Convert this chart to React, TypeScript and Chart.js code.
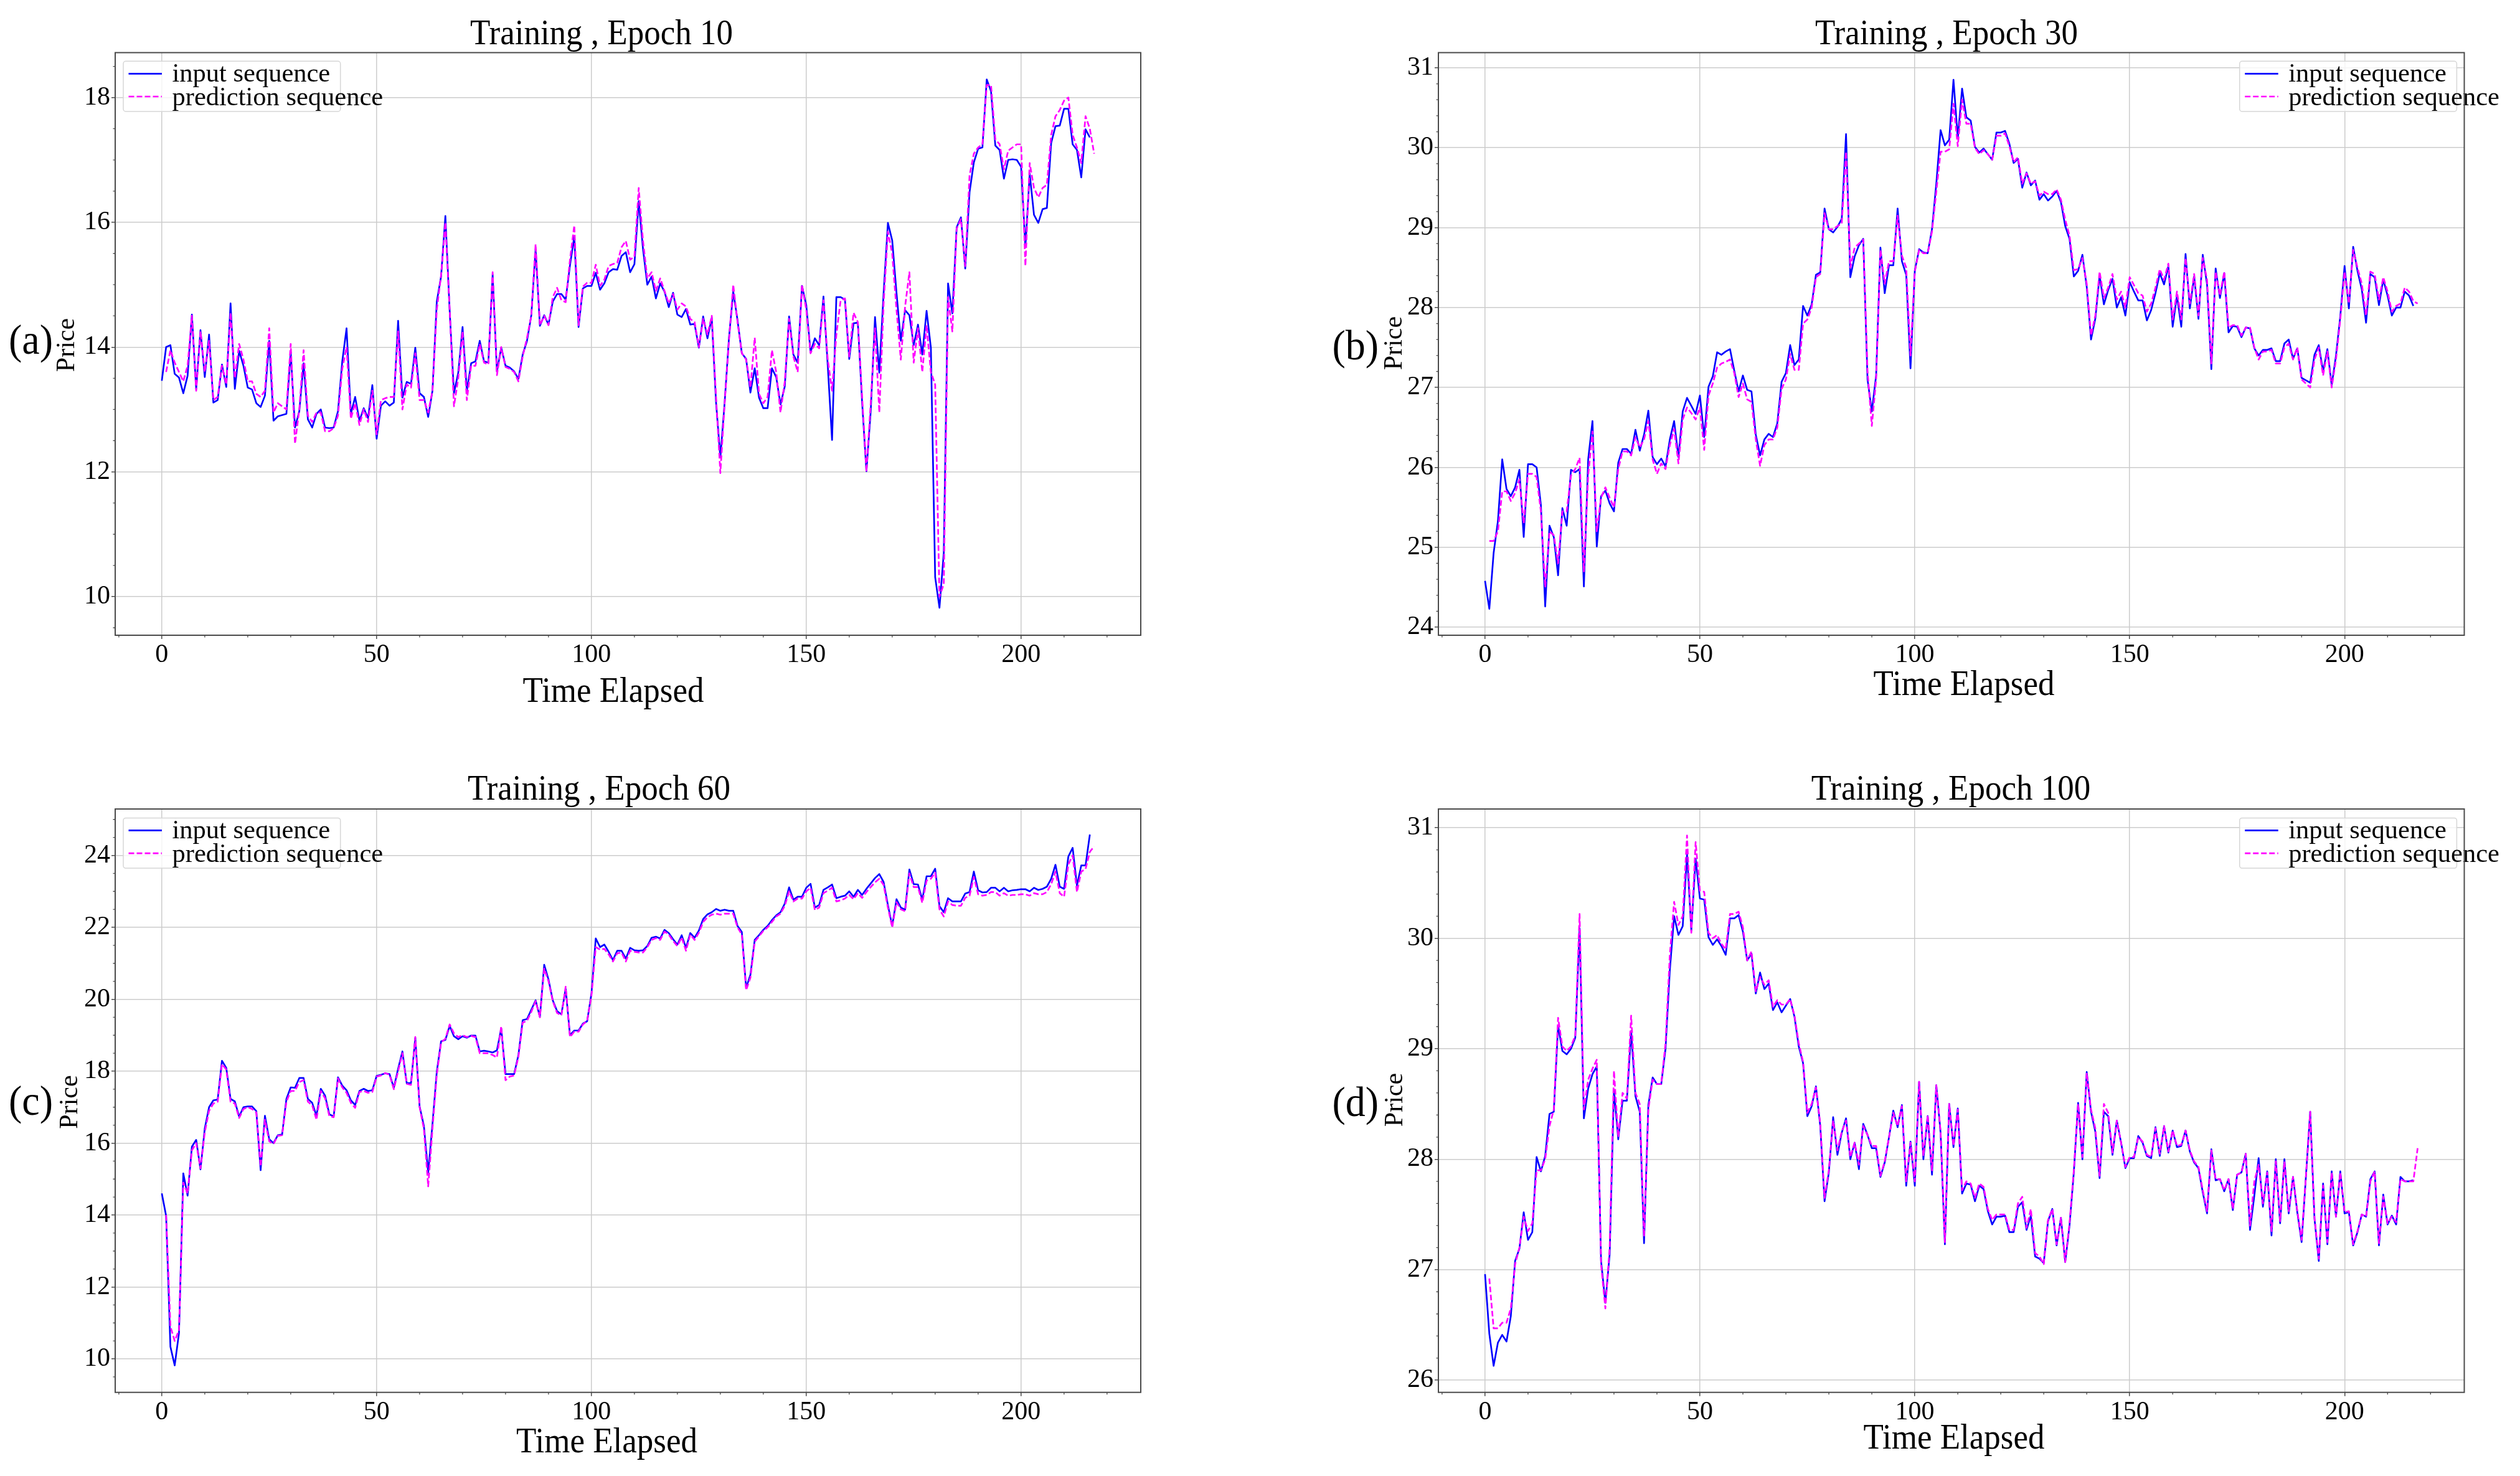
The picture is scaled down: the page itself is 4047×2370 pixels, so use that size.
import React, { useEffect, useRef } from "react";
import { Chart, registerables } from "chart.js";

Chart.register(...registerables);

// ---------------- data ----------------
const X_TICKS = [0, 50, 100, 150, 200];

const A_Y_TICKS = [10, 12, 14, 16, 18];
const B_Y_TICKS = [24, 25, 26, 27, 28, 29, 30, 31];
const C_Y_TICKS = [10, 12, 14, 16, 18, 20, 22, 24];
const D_Y_TICKS = [26, 27, 28, 29, 30, 31];

const LEGEND_LABELS = ["input sequence", "prediction sequence"];

// input sequence: x = 0..216 ; prediction sequence: x = 1..217
const A_INPUT = [
  13.46, 14.0, 14.03, 13.57, 13.51, 13.26, 13.54, 14.52, 13.33, 14.27,
  13.52, 14.2, 13.11, 13.15, 13.72, 13.36, 14.7, 13.33, 13.94, 13.7,
  13.35, 13.32, 13.1, 13.04, 13.22, 14.1, 12.82, 12.89, 12.91, 12.93,
  13.92, 12.71, 12.97, 13.74, 12.84, 12.71, 12.93, 13.0, 12.71, 12.7,
  12.71, 12.97, 13.77, 14.3, 12.93, 13.2, 12.82, 13.02, 12.86, 13.39,
  12.53, 13.06, 13.13, 13.06, 13.11, 14.42, 13.19, 13.44, 13.41, 13.99,
  13.26, 13.2, 12.88, 13.3, 14.73, 15.13, 16.1, 14.58, 13.26, 13.59,
  14.32, 13.3, 13.74, 13.77, 14.1, 13.77, 13.75, 15.16, 13.61, 13.99,
  13.7, 13.67, 13.61, 13.49, 13.88, 14.1, 14.51, 15.57, 14.34, 14.51,
  14.36, 14.73, 14.85, 14.85, 14.76, 15.31, 15.77, 14.32, 14.94, 14.98,
  14.98, 15.19, 14.92, 15.02, 15.2, 15.25, 15.24, 15.46, 15.52, 15.2,
  15.33, 16.34, 15.57, 15.0, 15.13, 14.78, 15.02, 14.89, 14.64, 14.87,
  14.52, 14.48, 14.61, 14.36, 14.37, 13.99, 14.49, 14.14, 14.47, 13.11,
  12.23, 13.11, 14.14, 14.89, 14.43, 13.9, 13.81, 13.27, 13.66, 13.19,
  13.02, 13.02, 13.66, 13.52, 13.08, 13.37, 14.49, 13.88, 13.75, 14.98,
  14.67, 13.92, 14.14, 14.03, 14.81, 13.7, 12.51, 14.8, 14.8, 14.76,
  13.81, 14.38, 14.39, 13.11, 12.01, 12.97, 14.48, 13.59, 14.87, 15.99,
  15.71, 14.87, 14.1, 14.59, 14.51, 14.03, 14.36, 13.88, 14.58, 13.99,
  10.31, 9.82, 10.7, 15.02, 14.54, 15.92, 16.08, 15.26, 16.48, 16.96,
  17.18, 17.2, 18.29, 18.1, 17.23, 17.16, 16.7, 17.0, 17.01, 17.0,
  16.89, 15.6, 16.78, 16.12, 15.99, 16.21, 16.23, 17.27, 17.54, 17.55,
  17.82, 17.82, 17.25, 17.16, 16.72, 17.49, 17.36,
];
const A_PREDICTION = [
  13.6, 13.95, 13.75, 13.6, 13.45, 13.7, 14.5, 13.3, 14.25, 13.6,
  14.1, 13.15, 13.2, 13.7, 13.4, 14.55, 13.5, 14.05, 13.8, 13.45,
  13.45, 13.25, 13.2, 13.3, 14.3, 12.95, 13.1, 13.05, 13.0, 14.05,
  12.45, 13.0, 13.95, 12.9, 12.8, 12.95, 12.95, 12.65, 12.65, 12.7,
  12.9, 13.65, 14.0, 12.85, 13.1, 12.75, 13.0, 12.8, 13.3, 12.6,
  13.15, 13.18, 13.2, 13.2, 14.25, 13.0, 13.4, 13.35, 13.9, 13.15,
  13.15, 12.95, 13.3, 14.6, 15.15, 16.0, 14.6, 13.05, 13.5, 14.25,
  13.15, 13.7, 13.7, 14.05, 13.75, 13.72, 15.2, 13.55, 14.0, 13.68,
  13.65, 13.6, 13.45, 13.85, 14.15, 14.5, 15.65, 14.35, 14.5, 14.35,
  14.8, 14.95, 14.75, 14.72, 15.4, 15.95, 14.35, 14.97, 15.03, 15.03,
  15.32, 14.98, 15.08, 15.3, 15.33, 15.35, 15.6, 15.7, 15.4, 15.45,
  16.55, 15.7, 15.1, 15.2, 14.9, 15.1, 14.9, 14.7, 14.85, 14.6,
  14.7, 14.65, 14.45, 14.4, 14.0, 14.45, 14.2, 14.5, 13.2, 11.98,
  13.1, 14.1, 15.0, 14.4, 13.9, 13.8, 13.35, 14.15, 13.25, 13.1,
  13.2, 13.95, 13.6, 12.95, 13.45, 14.45, 13.85, 13.6, 15.0, 14.6,
  13.9, 14.05, 13.98, 14.75, 13.8, 13.3, 14.2, 14.75, 14.78, 13.85,
  14.55, 14.4, 13.2, 12.0, 13.1, 14.3, 12.95, 14.7, 15.85, 15.5,
  14.6, 13.8, 14.65, 15.2, 13.75, 14.3, 13.6, 14.35, 13.6, 13.4,
  10.0, 10.2, 14.8, 14.25, 15.9, 16.05, 15.3, 16.75, 17.1, 17.2,
  17.25, 18.2, 18.2, 17.33, 17.25, 16.85, 17.15, 17.2, 17.25, 17.25,
  15.3, 16.95, 16.55, 16.4, 16.55, 16.6, 17.4, 17.7, 17.8, 17.95,
  18.0, 17.4, 17.2, 16.95, 17.7, 17.5, 17.1,
];

const B_INPUT = [
  24.58, 24.23, 24.93, 25.33, 26.1, 25.73, 25.64, 25.75, 25.97, 25.13,
  26.04, 26.04, 26.0, 25.53, 24.26, 25.27, 25.13, 24.65, 25.49, 25.27,
  25.97, 25.94, 25.98, 24.51, 26.1, 26.58, 25.01, 25.64, 25.71, 25.55,
  25.45, 26.06, 26.23, 26.23, 26.17, 26.47, 26.21, 26.41, 26.71, 26.13,
  26.04, 26.11, 26.01, 26.35, 26.58, 26.13, 26.7, 26.87, 26.77, 26.67,
  26.9, 26.38, 27.01, 27.14, 27.44, 27.41, 27.45, 27.48, 27.21, 26.95,
  27.15, 26.97, 26.95, 26.41, 26.15, 26.35, 26.42, 26.38, 26.55, 27.07,
  27.18, 27.53, 27.28, 27.35, 28.02, 27.9, 28.04, 28.41, 28.44, 29.24,
  28.98, 28.94, 29.01, 29.11, 30.17, 28.38, 28.64, 28.78, 28.86, 27.1,
  26.7, 27.15, 28.75, 28.18, 28.53, 28.53, 29.24, 28.58, 28.41, 27.24,
  28.46, 28.73, 28.69, 28.68, 28.98, 29.55, 30.22, 30.03, 30.1, 30.85,
  30.12, 30.74, 30.38, 30.34, 30.01, 29.94, 29.99, 29.92, 29.85, 30.19,
  30.19, 30.21, 30.05, 29.81, 29.86, 29.5, 29.69, 29.53, 29.59, 29.35,
  29.42, 29.34, 29.39, 29.46, 29.32, 29.02, 28.86, 28.39, 28.46, 28.66,
  28.26, 27.6, 27.86, 28.4, 28.04, 28.22, 28.36, 28.0, 28.13, 27.9,
  28.32, 28.2, 28.09, 28.09, 27.84, 27.97, 28.18, 28.43, 28.29, 28.52,
  27.76, 28.15, 27.76, 28.67, 27.99, 28.39, 27.86, 28.66, 28.29, 27.23,
  28.49, 28.12, 28.43, 27.69, 27.77, 27.76, 27.63, 27.75, 27.74, 27.49,
  27.4, 27.47, 27.47, 27.49, 27.33, 27.33, 27.55, 27.6, 27.36, 27.49,
  27.12, 27.09, 27.06, 27.41, 27.53, 27.2, 27.48, 27.03, 27.4, 27.89,
  28.52, 27.99, 28.76, 28.46, 28.23, 27.81, 28.42, 28.38, 28.03, 28.35,
  28.15, 27.9, 28.0, 28.0, 28.2, 28.15, 28.02,
];
const B_PREDICTION = [
  25.08, 25.08, 25.2, 25.7, 25.7, 25.58, 25.68, 25.85, 25.3, 25.92,
  25.92, 25.88, 25.45, 24.5, 25.2, 25.15, 24.8, 25.45, 25.45, 25.9,
  25.98, 26.12, 24.7, 25.9, 26.45, 25.2, 25.62, 25.75, 25.62, 25.5,
  25.98, 26.2, 26.2, 26.15, 26.38, 26.25, 26.35, 26.58, 26.1, 25.92,
  26.05, 25.98, 26.28, 26.48, 26.05, 26.6, 26.75, 26.68, 26.6, 26.75,
  26.22, 26.9, 27.05, 27.25, 27.3, 27.32, 27.35, 27.18, 26.88, 27.05,
  26.85, 26.82, 26.35, 26.02, 26.28, 26.35, 26.35, 26.5, 26.98, 27.1,
  27.42, 27.22, 27.22, 27.8, 27.85, 28.0, 28.38, 28.42, 29.18, 28.98,
  28.98, 29.02, 29.05, 29.95, 28.5, 28.75, 28.8, 28.85, 27.2, 26.52,
  27.1, 28.72, 28.3, 28.58, 28.58, 29.15, 28.65, 28.5, 27.4, 28.45,
  28.72, 28.68, 28.68, 28.95, 29.45, 29.95, 29.95, 29.98, 30.55, 30.02,
  30.6, 30.3, 30.3, 30.0, 29.92, 29.97, 29.92, 29.85, 30.15, 30.15,
  30.18, 30.02, 29.82, 29.88, 29.55, 29.68, 29.55, 29.58, 29.4, 29.45,
  29.42, 29.42, 29.48, 29.35, 29.1, 28.9, 28.47, 28.48, 28.62, 28.3,
  27.65, 27.9, 28.45, 28.12, 28.25, 28.42, 28.1, 28.2, 28.0, 28.38,
  28.28, 28.18, 28.15, 27.95, 28.05, 28.25, 28.48, 28.35, 28.55, 27.85,
  28.2, 27.85, 28.62, 28.05, 28.42, 27.9, 28.62, 28.35, 27.3, 28.45,
  28.15, 28.45, 27.75, 27.78, 27.78, 27.65, 27.75, 27.75, 27.5, 27.35,
  27.45, 27.45, 27.47, 27.3, 27.3, 27.5, 27.55, 27.35, 27.5, 27.1,
  27.05, 27.0, 27.35, 27.5, 27.15, 27.45, 27.0, 27.35, 27.85, 28.45,
  28.05, 28.72, 28.5, 28.3, 27.9, 28.45, 28.42, 28.1, 28.38, 28.2,
  27.95, 28.02, 28.05, 28.25, 28.2, 28.08, 28.05,
];

const C_INPUT = [
  14.6, 13.98, 10.34, 9.82, 10.72, 15.16, 14.54, 15.9, 16.09, 15.27,
  16.41, 17.0, 17.19, 17.21, 18.29, 18.09, 17.23, 17.16, 16.74, 17.0,
  17.02, 17.02, 16.89, 15.25, 16.76, 16.11, 16.0, 16.22, 16.24, 17.23,
  17.55, 17.54, 17.81, 17.81, 17.23, 17.12, 16.76, 17.51, 17.32, 16.8,
  16.74, 17.83, 17.6, 17.47, 17.19, 17.06, 17.45, 17.51, 17.45, 17.47,
  17.87, 17.9, 17.94, 17.92, 17.54, 18.07, 18.55, 17.67, 17.67, 18.93,
  17.02, 16.48, 15.18, 16.54, 17.99, 18.83, 18.87, 19.26, 18.97, 18.89,
  18.97, 18.93, 18.99, 18.99, 18.55, 18.57, 18.55, 18.52, 18.58, 19.19,
  17.92, 17.92, 17.92, 18.45, 19.42, 19.45, 19.71, 19.97, 19.51, 20.96,
  20.55, 19.97, 19.67, 19.58, 20.29, 19.0, 19.13, 19.13, 19.32, 19.39,
  20.16, 21.69, 21.45, 21.52, 21.32, 21.09, 21.35, 21.35, 21.13, 21.43,
  21.36, 21.35, 21.36, 21.48, 21.71, 21.74, 21.69, 21.93, 21.84, 21.67,
  21.52, 21.78, 21.43, 21.84, 21.71, 21.91, 22.23, 22.36, 22.42, 22.51,
  22.46, 22.49, 22.46, 22.46, 22.04, 21.87, 20.32, 20.68, 21.65, 21.78,
  21.93, 22.04, 22.2, 22.33, 22.42, 22.66, 23.11, 22.77, 22.85, 22.85,
  23.1, 23.21, 22.55, 22.62, 23.04, 23.11, 23.19, 22.81, 22.85, 22.88,
  23.0, 22.85, 23.04, 22.9, 23.07, 23.22, 23.37, 23.48, 23.26, 22.62,
  22.04, 22.78, 22.55, 22.49, 23.61, 23.2, 23.19, 22.77, 23.42, 23.42,
  23.63, 22.59, 22.42, 22.81, 22.72, 22.72, 22.72, 22.94, 22.98, 23.55,
  23.03, 22.97, 22.98, 23.1, 23.1, 23.0, 23.1, 23.0, 23.03, 23.04,
  23.06, 23.06, 23.0, 23.1, 23.04, 23.07, 23.13, 23.35, 23.74, 23.13,
  23.07, 23.97, 24.21, 23.16, 23.72, 23.72, 24.58,
];
const C_PREDICTION = [
  14.0, 10.9, 10.5, 10.8, 14.9, 14.6, 15.8, 16.0, 15.3, 16.3,
  16.9, 17.1, 17.15, 18.2, 18.05, 17.15, 17.1, 16.7, 16.95, 17.0,
  16.95, 16.85, 15.35, 16.65, 16.05, 15.98, 16.2, 16.22, 17.15, 17.45,
  17.45, 17.7, 17.75, 17.15, 17.05, 16.65, 17.45, 17.25, 16.75, 16.72,
  17.8, 17.55, 17.4, 17.12, 16.98, 17.42, 17.45, 17.4, 17.42, 17.85,
  17.88, 17.95, 17.9, 17.5, 18.0, 18.5, 17.65, 17.62, 18.95, 17.0,
  16.4, 14.8, 16.4, 17.9, 18.8, 18.9, 19.3, 19.05, 18.95, 19.0,
  18.95, 18.98, 18.95, 18.5, 18.5, 18.5, 18.45, 18.38, 19.25, 17.75,
  17.85, 17.88, 18.4, 19.35, 19.4, 19.65, 19.95, 19.5, 20.85, 20.5,
  19.95, 19.62, 19.55, 20.35, 18.95, 19.1, 19.1, 19.3, 19.4, 20.1,
  21.45, 21.38, 21.4, 21.25, 21.05, 21.28, 21.3, 21.05, 21.35, 21.32,
  21.3, 21.3, 21.45, 21.65, 21.7, 21.65, 21.88, 21.8, 21.62, 21.48,
  21.72, 21.35, 21.8, 21.65, 21.85, 22.15, 22.28, 22.35, 22.38, 22.35,
  22.38, 22.38, 22.38, 22.0, 21.8, 20.25, 20.6, 21.6, 21.75, 21.9,
  22.0, 22.15, 22.3, 22.38, 22.6, 23.0, 22.72, 22.8, 22.8, 23.0,
  23.1, 22.48, 22.55, 22.95, 23.02, 23.1, 22.72, 22.75, 22.8, 22.9,
  22.78, 22.95, 22.82, 22.98, 23.12, 23.25, 23.35, 23.18, 22.55, 22.0,
  22.7, 22.5, 22.45, 23.5, 23.12, 23.12, 22.68, 23.3, 23.35, 23.52,
  22.5, 22.3, 22.72, 22.62, 22.6, 22.6, 22.82, 22.88, 23.4, 22.92,
  22.88, 22.9, 22.98, 22.98, 22.88, 22.95, 22.88, 22.9, 22.9, 22.92,
  22.92, 22.88, 22.95, 22.92, 22.92, 22.98, 23.2, 23.55, 22.95, 22.85,
  23.75, 24.0, 22.98, 23.55, 23.62, 24.1, 24.25,
];

const D_INPUT = [
  26.96, 26.42, 26.13, 26.34, 26.41, 26.35, 26.58, 27.08, 27.19, 27.52,
  27.27, 27.34, 28.02, 27.89, 28.03, 28.41, 28.43, 29.21, 28.98, 28.95,
  29.0, 29.1, 30.09, 28.37, 28.64, 28.77, 28.84, 27.08, 26.7, 27.14,
  28.63, 28.18, 28.53, 28.53, 29.16, 28.57, 28.43, 27.24, 28.49, 28.74,
  28.68, 28.68, 29.0, 29.71, 30.2, 30.03, 30.11, 30.76, 30.07, 30.72,
  30.36, 30.35, 30.01, 29.94, 29.99, 29.93, 29.85, 30.18, 30.18, 30.21,
  30.06, 29.8, 29.86, 29.5, 29.69, 29.54, 29.59, 29.35, 29.42, 29.33,
  29.39, 29.45, 29.29, 29.02, 28.87, 28.39, 28.48, 28.66, 28.3, 27.62,
  27.88, 28.38, 28.04, 28.24, 28.37, 28.0, 28.15, 27.91, 28.32, 28.22,
  28.1, 28.1, 27.84, 27.97, 28.2, 28.44, 28.29, 28.49, 27.76, 28.16,
  27.76, 28.7, 28.0, 28.39, 27.86, 28.67, 28.24, 27.23, 28.5, 28.11,
  28.46, 27.69, 27.78, 27.77, 27.62, 27.76, 27.73, 27.53, 27.41, 27.48,
  27.48, 27.49, 27.34, 27.34, 27.57, 27.61, 27.36, 27.49, 27.12, 27.1,
  27.06, 27.44, 27.55, 27.22, 27.47, 27.07, 27.4, 27.88, 28.51, 28.0,
  28.79, 28.43, 28.25, 27.83, 28.43, 28.39, 28.04, 28.35, 28.15, 27.92,
  28.01, 28.01, 28.21, 28.15, 28.03, 28.01, 28.29, 28.03, 28.3, 28.06,
  28.26, 28.11, 28.12, 28.26, 28.07, 27.97, 27.92, 27.7, 27.51, 28.09,
  27.81, 27.82, 27.71, 27.82, 27.54, 27.86, 27.88, 28.05, 27.36, 27.67,
  28.01, 27.57, 27.89, 27.31, 28.0, 27.42, 28.0, 27.51, 27.84, 27.52,
  27.25, 27.84, 28.43, 27.46, 27.08, 27.78, 27.23, 27.89, 27.48, 27.89,
  27.51, 27.52, 27.22, 27.34, 27.5, 27.48, 27.82, 27.89, 27.22, 27.68,
  27.41, 27.49, 27.41, 27.84, 27.8, 27.8, 27.81,
];
const D_PREDICTION = [
  26.92, 26.47, 26.47, 26.52, 26.52, 26.65, 27.05, 27.2, 27.48, 27.35,
  27.42, 27.9, 27.9, 28.0, 28.3, 28.45, 29.28, 29.02, 28.98, 29.02,
  29.12, 30.22, 28.45, 28.72, 28.82, 28.9, 27.05, 26.65, 27.2, 28.8,
  28.2, 28.6, 28.55, 29.3, 28.6, 28.5, 27.3, 28.45, 28.72, 28.68,
  28.68, 29.05, 29.85, 30.33, 30.12, 30.2, 30.93, 30.05, 30.87, 30.43,
  30.42, 30.05, 30.0, 30.03, 29.95, 29.9, 30.22, 30.22, 30.24, 30.1,
  29.8, 29.88, 29.52, 29.65, 29.58, 29.62, 29.38, 29.44, 29.4, 29.4,
  29.45, 29.3, 29.05, 28.88, 28.42, 28.5, 28.65, 28.32, 27.65, 27.9,
  28.35, 28.08, 28.25, 28.35, 28.02, 28.15, 27.95, 28.3, 28.22, 28.12,
  28.12, 27.85, 27.98, 28.2, 28.42, 28.3, 28.48, 27.8, 28.15, 27.8,
  28.7, 28.03, 28.4, 27.9, 28.67, 28.25, 27.25, 28.5, 28.12, 28.45,
  27.72, 27.8, 27.78, 27.65, 27.78, 27.75, 27.55, 27.45, 27.5, 27.5,
  27.5, 27.36, 27.36, 27.6, 27.66, 27.38, 27.55, 27.15, 27.12, 27.05,
  27.45, 27.55, 27.23, 27.47, 27.07, 27.42, 27.9, 28.5, 28.02, 28.78,
  28.45, 28.28, 27.85, 28.5, 28.42, 28.06, 28.35, 28.15, 27.93, 28.02,
  28.02, 28.2, 28.16, 28.04, 28.02, 28.28, 28.05, 28.3, 28.07, 28.26,
  28.12, 28.13, 28.26, 28.08, 27.98, 27.93, 27.72, 27.53, 28.08, 27.82,
  27.82, 27.72, 27.82, 27.55, 27.86, 27.88, 28.05, 27.4, 27.8, 27.95,
  27.6, 27.88, 27.35, 27.98, 27.44, 27.98, 27.53, 27.84, 27.53, 27.27,
  27.84, 28.43, 27.47, 27.1, 27.76, 27.25, 27.88, 27.48, 27.88, 27.52,
  27.53, 27.23, 27.35, 27.5, 27.48, 27.8, 27.89, 27.24, 27.66, 27.42,
  27.48, 27.43, 27.82, 27.8, 27.8, 27.8, 28.1,
];

// ---------------- styling / layout ----------------
const FONT = "'Liberation Serif', 'Times New Roman', serif";
const AXIS_COLOR = "#4a4a4a";
const GRID_COLOR = "#cccccc";
const BLUE = "#0000ff";
const MAGENTA = "#ff00ff";
const X_MIN = -10.85;
const X_MAX = 227.85;
const Y_AXIS_W = 100;
const X_AXIS_H = 60;
const LINE_W = 2.7;
const TEXT_VSTRETCH = 1.07;

type Box = { l: number; r: number; t: number; b: number };
type Pt = { x: number; y: number };
type PanelCfg = {
  letter: string;
  title: string;
  input: number[];
  pred: number[];
  yTicks: number[];
  yMin: number;
  yMax: number;
  yMinor: number;
  ox: number;
  oy: number;
  cw: number;
  ch: number;
  area: Box;
  titlePos: Pt;
  xLabelPos: Pt;
  yLabelPos: Pt;
  letterPos: Pt;
  legendPos: Pt;
};

const PANELS: PanelCfg[] = [
  {
    letter: "(a)", title: "Training , Epoch 10", input: A_INPUT, pred: A_PREDICTION,
    yTicks: A_Y_TICKS, yMin: 9.38, yMax: 18.72, yMinor: 0.5,
    ox: 0, oy: 0, cw: 2023, ch: 1185,
    area: { l: 185, r: 1832, t: 84.5, b: 1020 },
    titlePos: { x: 966, y: 71 }, xLabelPos: { x: 985, y: 1127 },
    yLabelPos: { x: 119, y: 554 }, letterPos: { x: 14, y: 568 },
    legendPos: { x: 198, y: 98.3 },
  },
  {
    letter: "(b)", title: "Training , Epoch 30", input: B_INPUT, pred: B_PREDICTION,
    yTicks: B_Y_TICKS, yMin: 23.9, yMax: 31.19, yMinor: 0.2,
    ox: 2023, oy: 0, cw: 2024, ch: 1185,
    area: { l: 2310, r: 3957.5, t: 84.5, b: 1020 },
    titlePos: { x: 3126, y: 71 }, xLabelPos: { x: 3154, y: 1116 },
    yLabelPos: { x: 2251, y: 551 }, letterPos: { x: 2139.5, y: 577 },
    legendPos: { x: 3596.7, y: 98.3 },
  },
  {
    letter: "(c)", title: "Training , Epoch 60", input: C_INPUT, pred: C_PREDICTION,
    yTicks: C_Y_TICKS, yMin: 9.07, yMax: 25.29, yMinor: 0.5,
    ox: 0, oy: 1185, cw: 2023, ch: 1185,
    area: { l: 185, r: 1832, t: 1299, b: 2235.7 },
    titlePos: { x: 962, y: 1284 }, xLabelPos: { x: 974.5, y: 2332 },
    yLabelPos: { x: 124, y: 1769.5 }, letterPos: { x: 14, y: 1789.5 },
    legendPos: { x: 198, y: 1313.4 },
  },
  {
    letter: "(d)", title: "Training , Epoch 100", input: D_INPUT, pred: D_PREDICTION,
    yTicks: D_Y_TICKS, yMin: 25.89, yMax: 31.17, yMinor: 0.2,
    ox: 2023, oy: 1185, cw: 2024, ch: 1185,
    area: { l: 2310, r: 3957.5, t: 1299, b: 2235.7 },
    titlePos: { x: 3133, y: 1284 }, xLabelPos: { x: 3138, y: 2326 },
    yLabelPos: { x: 2252, y: 1766 }, letterPos: { x: 2139.5, y: 1792 },
    legendPos: { x: 3596.7, y: 1313.4 },
  },
];

function stretchedText(
  ctx: CanvasRenderingContext2D,
  text: string,
  x: number,
  y: number,
  font: string,
  align: CanvasTextAlign
) {
  ctx.save();
  ctx.translate(x, y);
  ctx.scale(1, TEXT_VSTRETCH);
  ctx.font = font;
  ctx.textAlign = align;
  ctx.textBaseline = "alphabetic";
  ctx.fillText(text, 0, 0);
  ctx.restore();
}

function makeDecorations(p: PanelCfg) {
  return {
    id: "decor",
    afterDraw(chart: any) {
      const ctx: CanvasRenderingContext2D = chart.ctx;
      const { left, right, top, bottom } = chart.chartArea;
      const xs = chart.scales.x;
      const ys = chart.scales.y;
      const ox = p.ox;
      const oy = p.oy;
      ctx.save();

      // minor ticks
      ctx.strokeStyle = AXIS_COLOR;
      ctx.lineWidth = 1.3;
      ctx.beginPath();
      for (let v = Math.ceil(xs.min / 10) * 10; v <= xs.max; v += 10) {
        if (v % 50 === 0) continue;
        const px = xs.getPixelForValue(v);
        ctx.moveTo(px, bottom);
        ctx.lineTo(px, bottom + 3.5);
      }
      for (let k = Math.ceil(ys.min / p.yMinor - 1e-9); k * p.yMinor <= ys.max + 1e-9; k++) {
        const v = k * p.yMinor;
        if (p.yTicks.some((t) => Math.abs(t - v) < 1e-6)) continue;
        const py = ys.getPixelForValue(v);
        ctx.moveTo(left - 3.5, py);
        ctx.lineTo(left, py);
      }
      ctx.stroke();

      // legend
      const lx = p.legendPos.x - ox;
      const ly = p.legendPos.y - oy;
      ctx.beginPath();
      (ctx as any).roundRect(lx, ly, 348.7, 80.7, 4);
      ctx.fillStyle = "rgba(255,255,255,0.8)";
      ctx.fill();
      ctx.strokeStyle = "#d6d6d6";
      ctx.lineWidth = 1.5;
      ctx.stroke();

      ctx.lineWidth = LINE_W;
      ctx.strokeStyle = BLUE;
      ctx.setLineDash([]);
      ctx.beginPath();
      ctx.moveTo(lx + 8.5, ly + 20);
      ctx.lineTo(lx + 62, ly + 20);
      ctx.stroke();
      ctx.strokeStyle = MAGENTA;
      ctx.setLineDash([9, 4]);
      ctx.beginPath();
      ctx.moveTo(lx + 8.5, ly + 56.7);
      ctx.lineTo(lx + 62, ly + 56.7);
      ctx.stroke();
      ctx.setLineDash([]);

      ctx.fillStyle = "#000";
      ctx.font = `42.5px ${FONT}`;
      ctx.textAlign = "left";
      ctx.textBaseline = "alphabetic";
      ctx.fillText(LEGEND_LABELS[0], lx + 78.5, ly + 33);
      ctx.fillText(LEGEND_LABELS[1], lx + 78.5, ly + 71);

      // spines
      ctx.strokeStyle = AXIS_COLOR;
      ctx.lineWidth = 2;
      ctx.strokeRect(left, top, right - left, bottom - top);

      // title, x label, panel letter
      ctx.fillStyle = "#000";
      stretchedText(ctx, p.title, p.titlePos.x - ox, p.titlePos.y - oy, `53px ${FONT}`, "center");
      stretchedText(ctx, "Time Elapsed", p.xLabelPos.x - ox, p.xLabelPos.y - oy, `53px ${FONT}`, "center");
      stretchedText(ctx, p.letter, p.letterPos.x - ox, p.letterPos.y - oy, `64px ${FONT}`, "left");

      // y label
      ctx.save();
      ctx.translate(p.yLabelPos.x - ox, p.yLabelPos.y - oy);
      ctx.rotate(-Math.PI / 2);
      ctx.font = `42px ${FONT}`;
      ctx.textAlign = "center";
      ctx.textBaseline = "alphabetic";
      ctx.fillText("Price", 0, 0);
      ctx.restore();

      ctx.restore();
    },
  };
}

function buildConfig(p: PanelCfg): any {
  const inputPts = p.input.map((v, i) => ({ x: i, y: v }));
  const predPts = p.pred.map((v, i) => ({ x: i + 1, y: v }));
  const tickFont = { family: FONT, size: 42 };
  return {
    type: "line",
    data: {
      datasets: [
        {
          label: LEGEND_LABELS[1],
          data: predPts,
          borderColor: MAGENTA,
          borderWidth: LINE_W,
          borderDash: [9, 4],
          pointRadius: 0,
          tension: 0,
          fill: false,
          order: 0,
          borderJoinStyle: "round",
        },
        {
          label: LEGEND_LABELS[0],
          data: inputPts,
          borderColor: BLUE,
          borderWidth: LINE_W,
          pointRadius: 0,
          tension: 0,
          fill: false,
          order: 1,
          borderJoinStyle: "round",
        },
      ],
    },
    options: {
      animation: false,
      responsive: false,
      maintainAspectRatio: false,
      devicePixelRatio: 1,
      events: [],
      layout: {
        padding: {
          left: p.area.l - p.ox - Y_AXIS_W,
          right: p.cw - (p.area.r - p.ox),
          top: p.area.t - p.oy,
          bottom: p.ch - (p.area.b - p.oy) - X_AXIS_H,
        },
      },
      plugins: {
        legend: { display: false },
        title: { display: false },
        tooltip: { enabled: false },
      },
      scales: {
        x: {
          type: "linear",
          min: X_MIN,
          max: X_MAX,
          afterBuildTicks: (s: any) => {
            s.ticks = X_TICKS.map((v) => ({ value: v }));
          },
          afterFit: (s: any) => {
            s.height = X_AXIS_H;
          },
          grid: {
            color: GRID_COLOR,
            lineWidth: 1.5,
            tickColor: AXIS_COLOR,
            tickLength: 6,
            tickWidth: 1.5,
          },
          border: { display: false },
          ticks: {
            font: tickFont,
            color: "#000",
            padding: 1,
            maxRotation: 0,
            autoSkip: false,
            callback: (v: any) => String(v),
          },
        },
        y: {
          type: "linear",
          min: p.yMin,
          max: p.yMax,
          afterBuildTicks: (s: any) => {
            s.ticks = p.yTicks.map((v) => ({ value: v }));
          },
          afterFit: (s: any) => {
            s.width = Y_AXIS_W;
          },
          grid: {
            color: GRID_COLOR,
            lineWidth: 1.5,
            tickColor: AXIS_COLOR,
            tickLength: 6,
            tickWidth: 1.5,
          },
          border: { display: false },
          ticks: {
            font: tickFont,
            color: "#000",
            padding: 2,
            autoSkip: false,
            callback: (v: any) => String(v),
          },
        },
      },
    },
    plugins: [makeDecorations(p)],
  };
}

function PanelChart({ cfg }: { cfg: PanelCfg }) {
  const ref = useRef<HTMLCanvasElement | null>(null);
  useEffect(() => {
    if (!ref.current) return;
    const chart = new Chart(ref.current, buildConfig(cfg));
    return () => chart.destroy();
  }, [cfg]);
  return (
    <canvas
      ref={ref}
      width={cfg.cw}
      height={cfg.ch}
      style={{ position: "absolute", left: cfg.ox, top: cfg.oy, width: cfg.cw, height: cfg.ch }}
    />
  );
}

export default function App() {
  return (
    <div
      style={{
        position: "absolute",
        left: 0,
        top: 0,
        width: 4047,
        height: 2370,
        background: "#ffffff",
        overflow: "hidden",
      }}
    >
      {PANELS.map((p) => (
        <PanelChart key={p.letter} cfg={p} />
      ))}
    </div>
  );
}
